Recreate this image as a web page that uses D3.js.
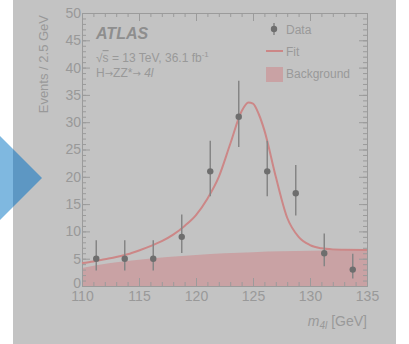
<!DOCTYPE html>
<html>
<head>
<meta charset="utf-8">
<script src="https://cdn.jsdelivr.net/npm/d3@7"></script>
<style>
body { margin: 0; background: #fff; }
svg { display: block; font-family: "Liberation Sans", Arial, sans-serif; }
</style>
</head>
<body>
<script>
// data
var binCenters = [111.25, 113.75, 116.25, 118.75, 121.25, 123.75, 126.25, 128.75, 131.25, 133.75];
var counts     = [5, 5, 5, 9, 21, 31, 21, 17, 6, 3];
var errLow     = [2.84, 2.84, 2.84, 6.06, 16.45, 25.47, 16.45, 12.92, 3.62, 1.37];
var errHigh    = [8.38, 8.38, 8.38, 13.11, 26.62, 37.6, 26.62, 22.16, 9.6, 5.92];

var fitMass   = [110, 111, 112, 113, 114, 115, 116, 117, 118, 119, 120, 121, 122, 123, 124, 124.6, 125, 125.5, 126, 127, 128, 129, 130, 131, 132, 133, 135];
var fitValues = [4.2, 4.5, 4.9, 5.3, 5.8, 6.5, 7.3, 8.2, 9.4, 11.0, 13.0, 16.0, 20.0, 26.0, 32.0, 33.6, 33.4, 31.5, 28.5, 20.0, 12.5, 9.0, 7.5, 6.9, 6.7, 6.65, 6.6];

var bkgMass   = [110, 112.5, 115, 117.5, 120, 122.5, 125, 127.5, 130, 132.5, 135];
var bkgValues = [3.3, 4.2, 4.8, 5.3, 5.7, 6.0, 6.2, 6.35, 6.45, 6.55, 6.6];

var xMajor = [110, 115, 120, 125, 130, 135];
var yMajor = [0, 5, 10, 15, 20, 25, 30, 35, 40, 45, 50];

var W = 409, H = 344;
var plotLeft = 82, plotRight = 367, plotTop = 13, plotBottom = 286;

var svg = d3.select('body').append('svg')
    .attr('width', W)
    .attr('height', H);

// faded panel + arrow
svg.append('rect').attr('x', 13).attr('y', 0).attr('width', 383).attr('height', H).attr('fill', '#c3c3c3');
svg.append('path').attr('d', 'M0,136L13,149L13,207L0,220Z').attr('fill', '#7fb8e0');
svg.append('path').attr('d', 'M13,149L42,178L13,207Z').attr('fill', '#5d97c3');

var x = d3.scaleLinear().domain([110, 135]).range([plotLeft, plotRight]);
var y = d3.scaleLinear().domain([0, 50]).range([plotBottom, plotTop]);

var ink = '#9b9b9b';
var textInk = '#999999';

// background component
var area = d3.area()
    .x(function(d){ return x(d[0]); })
    .y0(y(0))
    .y1(function(d){ return y(d[1]); })
    .curve(d3.curveMonotoneX);
svg.append('path')
    .datum(bkgMass.map(function(m, i){ return [m, bkgValues[i]]; }))
    .attr('d', area)
    .attr('fill', '#c9a2a4');

// axes, ticks inside
var xMinor = d3.range(110, 135.01, 1);
var yMinor = d3.range(0, 50.01, 1);

function styleAxis(g) {
    g.selectAll('path, line').attr('stroke', ink);
    g.selectAll('text').attr('fill', textInk).attr('font-family', '"Liberation Sans", Arial, sans-serif');
}

var gx = svg.append('g').attr('transform', 'translate(0,' + plotBottom + ')')
    .call(d3.axisBottom(x).tickValues(xMajor).tickSize(-8).tickSizeOuter(0).tickPadding(5))
    .call(styleAxis);
gx.selectAll('text').attr('font-size', 14);
svg.append('g').attr('transform', 'translate(0,' + plotBottom + ')')
    .call(d3.axisBottom(x).tickValues(xMinor).tickSize(-4).tickSizeOuter(0).tickFormat(''))
    .call(styleAxis);
svg.append('g').attr('transform', 'translate(0,' + plotTop + ')')
    .call(d3.axisTop(x).tickValues(xMajor).tickSize(-8).tickSizeOuter(0).tickFormat(''))
    .call(styleAxis);
svg.append('g').attr('transform', 'translate(0,' + plotTop + ')')
    .call(d3.axisTop(x).tickValues(xMinor).tickSize(-4).tickSizeOuter(0).tickFormat(''))
    .call(styleAxis);

var gy = svg.append('g').attr('transform', 'translate(' + plotLeft + ',0)')
    .call(d3.axisLeft(y).tickValues(yMajor).tickSize(-8).tickSizeOuter(0).tickPadding(1))
    .call(styleAxis);
gy.selectAll('text').attr('font-size', 14);
gy.selectAll('.tick').filter(function(d){ return d === 0; }).select('text').attr('dy', '0.1em');
svg.append('g').attr('transform', 'translate(' + plotLeft + ',0)')
    .call(d3.axisLeft(y).tickValues(yMinor).tickSize(-4).tickSizeOuter(0).tickFormat(''))
    .call(styleAxis);
svg.append('g').attr('transform', 'translate(' + plotRight + ',0)')
    .call(d3.axisRight(y).tickValues(yMajor).tickSize(-8).tickSizeOuter(0).tickFormat(''))
    .call(styleAxis);
svg.append('g').attr('transform', 'translate(' + plotRight + ',0)')
    .call(d3.axisRight(y).tickValues(yMinor).tickSize(-4).tickSizeOuter(0).tickFormat(''))
    .call(styleAxis);

// fit curve
var line = d3.line()
    .x(function(d){ return x(d[0]); })
    .y(function(d){ return y(d[1]); })
    .curve(d3.curveMonotoneX);
svg.append('path')
    .datum(fitMass.map(function(m, i){ return [m, fitValues[i]]; }))
    .attr('d', line)
    .attr('fill', 'none')
    .attr('stroke', '#cc8787')
    .attr('stroke-width', 2);

// data points
var pts = svg.append('g');
binCenters.forEach(function(m, i){
    pts.append('line')
        .attr('x1', x(m)).attr('x2', x(m))
        .attr('y1', y(errLow[i])).attr('y2', y(errHigh[i]))
        .attr('stroke', '#858585').attr('stroke-width', 1.5);
    pts.append('circle')
        .attr('cx', x(m)).attr('cy', y(counts[i])).attr('r', 3.2)
        .attr('fill', '#6e6e6e');
});

// labels
svg.append('text')
    .attr('transform', 'translate(48,' + (plotTop + 2) + ') rotate(-90)')
    .attr('text-anchor', 'end')
    .attr('font-size', 13)
    .attr('fill', textInk)
    .text('Events / 2.5 GeV');

var xl = svg.append('text')
    .attr('x', plotRight).attr('y', 326)
    .attr('text-anchor', 'end')
    .attr('font-size', 14)
    .attr('fill', textInk);
xl.append('tspan').attr('font-style', 'italic').text('m');
xl.append('tspan').attr('font-size', 10).attr('font-style', 'italic').attr('dy', 3).text('4l');
xl.append('tspan').attr('dy', -3).text(' [GeV]');

svg.append('text')
    .attr('x', 96).attr('y', 39)
    .attr('font-size', 16).attr('font-weight', 'bold').attr('font-style', 'italic')
    .attr('fill', '#8e8e8e')
    .text('ATLAS');

var t1 = svg.append('text').attr('x', 96).attr('y', 62).attr('font-size', 12).attr('fill', textInk);
t1.append('tspan').text('√');
t1.append('tspan').attr('text-decoration', 'overline').text('s');
t1.append('tspan').text(' = 13 TeV, 36.1 fb');
t1.append('tspan').attr('font-size', 8).attr('dy', -5).text('-1');

var t2 = svg.append('text').attr('x', 96).attr('y', 77).attr('font-size', 12).attr('fill', textInk);
t2.append('tspan').text('H');
t2.append('tspan').attr('font-family', '"DejaVu Sans"').attr('font-size', 10).text('→');
t2.append('tspan').text('ZZ*');
t2.append('tspan').attr('font-family', '"DejaVu Sans"').attr('font-size', 10).text('→');
t2.append('tspan').attr('font-style', 'italic').text(' 4l');

// legend
var lg = svg.append('g');
lg.append('line').attr('x1', 274).attr('x2', 274).attr('y1', 23).attr('y2', 35)
    .attr('stroke', '#858585').attr('stroke-width', 1.5);
lg.append('circle').attr('cx', 274).attr('cy', 29).attr('r', 3.2).attr('fill', '#6e6e6e');
lg.append('text').attr('x', 286).attr('y', 34).attr('font-size', 12).attr('fill', textInk).text('Data');
lg.append('line').attr('x1', 266).attr('x2', 283).attr('y1', 51).attr('y2', 51)
    .attr('stroke', '#cc8787').attr('stroke-width', 2);
lg.append('text').attr('x', 286).attr('y', 56).attr('font-size', 12).attr('fill', textInk).text('Fit');
lg.append('rect').attr('x', 266).attr('y', 67).attr('width', 17).attr('height', 15).attr('fill', '#c9a2a4');
lg.append('text').attr('x', 286).attr('y', 78).attr('font-size', 12).attr('fill', textInk).text('Background');
</script>
</body>
</html>
